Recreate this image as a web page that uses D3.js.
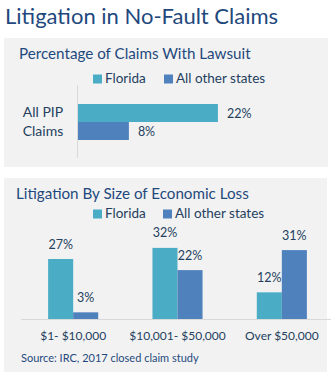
<!DOCTYPE html>
<html><head><meta charset="utf-8">
<script src="https://cdn.jsdelivr.net/npm/d3@7"></script>
<style>
body{margin:0;background:#fff;}
text{font-family:Lato, "Open Sans", sans-serif;}
</style></head>
<body><svg id="c" width="331" height="376"></svg>
<script>
const title = "Litigation in No-Fault Claims";
const series = ["Florida", "All other states"];
const colors = ["#4BACC6", "#4F81BD"];

const chart1Title = "Percentage of Claims With Lawsuit";
const chart1Categories = ["All PIP Claims"];
const chart1Florida = [22];
const chart1Other = [8];

const chart2Title = "Litigation By Size of Economic Loss";
const chart2Categories = ["$1- $10,000", "$10,001- $50,000", "Over $50,000"];
const chart2Florida = [27, 32, 12];
const chart2Other = [3, 22, 31];

const source = "Source: IRC, 2017 closed claim study";

const navy = "#1F497D";
const txt = "#243F60";
const svg = d3.select("#c");

svg.append("text").attr("x", 5).attr("y", 23.5).attr("fill", navy)
  .attr("font-size", 22).text(title);

// Panels
svg.append("rect").attr("x", 4).attr("y", 38).attr("width", 324).attr("height", 129).attr("fill", "#F2F2F2");
svg.append("rect").attr("x", 4).attr("y", 178).attr("width", 323).attr("height", 194).attr("fill", "#F2F2F2");

function legend(y, xs) {
  series.forEach((s, i) => {
    svg.append("rect").attr("x", xs[i]).attr("y", y - 8.5).attr("width", 9).attr("height", 9).attr("fill", colors[i]);
    svg.append("text").attr("x", xs[i] + 12).attr("y", y).attr("fill", txt).attr("font-size", 13.5).text(s);
  });
}

// ---- Chart 1 ----
svg.append("text").attr("x", 19).attr("y", 59).attr("fill", navy).attr("font-size", 15.2).text(chart1Title);
legend(83, [93, 164]);

const data1 = chart1Categories.map((c, i) => ({cat: c, vals: [chart1Florida[i], chart1Other[i]]}));
const x1 = d3.scaleLinear().domain([0, 25]).range([78, 237]);
const y1 = d3.scaleBand().domain(chart1Categories).range([86, 158]).paddingInner(0).paddingOuter(0.5);
const y1s = d3.scaleBand().domain(series).range([0, y1.bandwidth()]);

svg.append("line").attr("x1", 77.5).attr("x2", 77.5).attr("y1", 85).attr("y2", 158).attr("stroke", "#D9D9D9");

data1.forEach(d => {
  const g = svg.append("g").attr("transform", `translate(0,${y1(d.cat)})`);
  g.selectAll("rect").data(d.vals).join("rect")
    .attr("x", x1(0)).attr("y", (v, i) => y1s(series[i]))
    .attr("width", v => x1(v) - x1(0)).attr("height", y1s.bandwidth())
    .attr("fill", (v, i) => colors[i]);
  g.selectAll("text.v").data(d.vals).join("text").attr("class", "v")
    .attr("x", v => x1(v) + 9).attr("y", (v, i) => y1s(series[i]) + y1s.bandwidth() / 2 + 4.5)
    .attr("fill", txt).attr("font-size", 12.5).text(v => v + "%");
  const words = d.cat.split(" ");
  const lines = [words.slice(0, 2).join(" "), words.slice(2).join(" ")];
  const cy = y1(d.cat) + y1.bandwidth() / 2;
  lines.forEach((l, i) => {
    svg.append("text").attr("x", 43).attr("y", cy - 5 + i * 19).attr("text-anchor", "middle")
      .attr("fill", txt).attr("font-size", 14).text(l);
  });
});

// ---- Chart 2 ----
svg.append("text").attr("x", 16).attr("y", 199).attr("fill", navy).attr("font-size", 15.2).text(chart2Title);
legend(218, [93, 163]);

const data2 = chart2Categories.map((c, i) => ({cat: c, vals: [chart2Florida[i], chart2Other[i]]}));
const x2 = d3.scaleBand().domain(chart2Categories).range([21, 334]).paddingInner(0.52).paddingOuter(0.26);
const x2s = d3.scaleBand().domain(series).range([0, x2.bandwidth()]);
const y2 = d3.scaleLinear().domain([0, 36]).range([319, 239]);

const groups = svg.selectAll("g.grp").data(data2).join("g").attr("class", "grp")
  .attr("transform", d => `translate(${x2(d.cat)},0)`);
groups.selectAll("rect").data(d => d.vals).join("rect")
  .attr("x", (v, i) => x2s(series[i])).attr("y", v => y2(v))
  .attr("width", x2s.bandwidth()).attr("height", v => y2(0) - y2(v))
  .attr("fill", (v, i) => colors[i]);
groups.selectAll("text").data(d => d.vals).join("text")
  .attr("x", (v, i) => x2s(series[i]) + x2s.bandwidth() / 2).attr("y", v => y2(v) - 10.5)
  .attr("text-anchor", "middle").attr("fill", txt).attr("font-size", 12.5).text(v => v + "%");

svg.append("line").attr("x1", 21).attr("x2", 331).attr("y1", 319.5).attr("y2", 319.5).attr("stroke", "#D9D9D9");

const xAxis = d3.axisBottom(x2).tickSize(0).tickPadding(0);
const ax = svg.append("g").attr("transform", "translate(0,331.3)").call(xAxis);
ax.select(".domain").remove();
ax.selectAll("text").attr("fill", txt).attr("font-size", 12).attr("font-family", "Lato").attr("dy", "0.71em");

svg.append("text").attr("x", 21).attr("y", 362).attr("fill", navy).attr("font-size", 11).text(source);
</script></body></html>
